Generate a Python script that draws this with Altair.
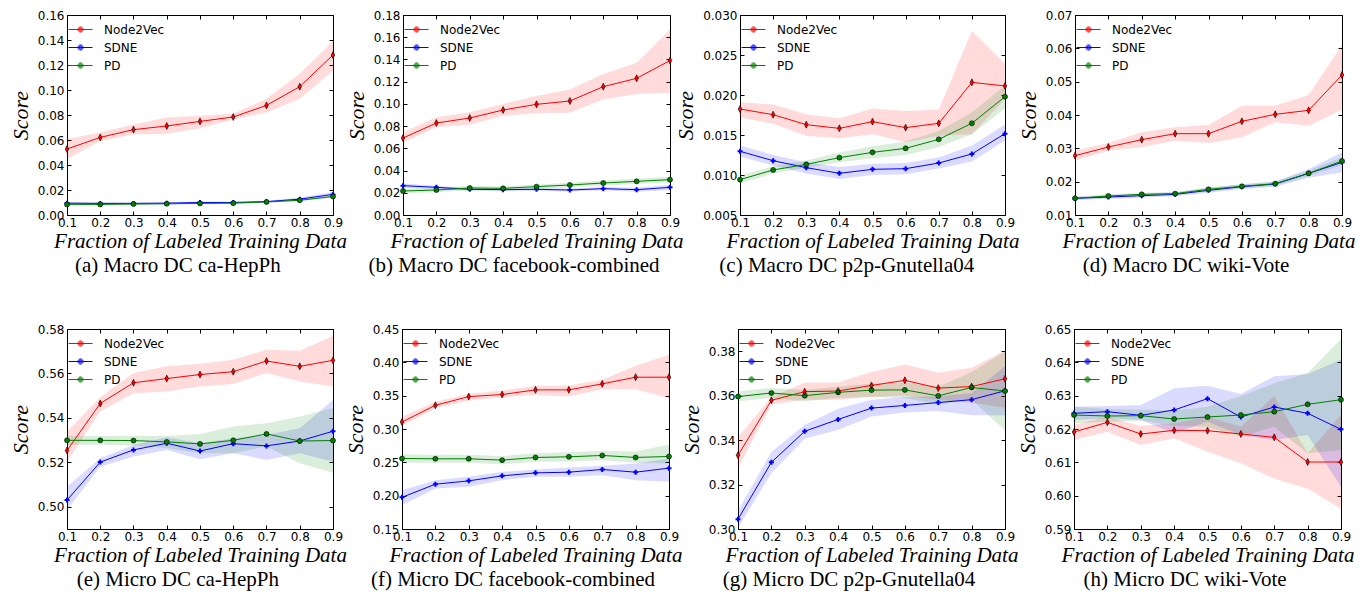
import altair as alt
import pandas as pd

X_VALUES = [0.1, 0.2, 0.3, 0.4, 0.5, 0.6, 0.7, 0.8, 0.9]
SERIES = ["Node2Vec", "SDNE", "PD"]
COLORS = ["#ff0000", "#0000ff", "#008000"]
MARKERS = ["M0,-1.4L0.7,0L0,1.4L-0.7,0Z", "cross", "circle"]
LEGEND_SYMBOL = ("M-1.5,0H1.5"
                 "M0.32,0A0.32,0.32 0 1,1 -0.32,0A0.32,0.32 0 1,1 0.32,0"
                 "M0.2,0A0.2,0.2 0 1,1 -0.2,0A0.2,0.2 0 1,1 0.2,0"
                 "M0.08,0A0.08,0.08 0 1,1 -0.08,0A0.08,0.08 0 1,1 0.08,0")

# ---------- (a) Macro DC ca-HepPh ----------
A_N2V = [0.0528, 0.0621, 0.0683, 0.0712, 0.0749, 0.0784, 0.0877, 0.1027, 0.1280]
A_N2V_LO = [0.0448, 0.0590, 0.0645, 0.0650, 0.0695, 0.0765, 0.0820, 0.0930, 0.1155]
A_N2V_HI = [0.0608, 0.0660, 0.0725, 0.0780, 0.0795, 0.0810, 0.0930, 0.1130, 0.1390]
A_SDNE = [0.0095, 0.0093, 0.0093, 0.0095, 0.0100, 0.0100, 0.0107, 0.0127, 0.0165]
A_SDNE_LO = [0.0085, 0.0085, 0.0085, 0.0087, 0.0091, 0.0092, 0.0099, 0.0115, 0.0148]
A_SDNE_HI = [0.0105, 0.0101, 0.0101, 0.0103, 0.0109, 0.0108, 0.0115, 0.0140, 0.0185]
A_PD = [0.0085, 0.0085, 0.0088, 0.0090, 0.0093, 0.0095, 0.0105, 0.0118, 0.0148]
A_PD_LO = [0.0078, 0.0079, 0.0082, 0.0084, 0.0087, 0.0089, 0.0099, 0.0110, 0.0138]
A_PD_HI = [0.0092, 0.0091, 0.0094, 0.0096, 0.0099, 0.0101, 0.0111, 0.0126, 0.0158]

# ---------- (b) Macro DC facebook-combined ----------
B_N2V = [0.0693, 0.0828, 0.0873, 0.0945, 0.0996, 0.1026, 0.1155, 0.1230, 0.1390]
B_N2V_LO = [0.0650, 0.0790, 0.0813, 0.0894, 0.0915, 0.0920, 0.1040, 0.1090, 0.1100]
B_N2V_HI = [0.0744, 0.0880, 0.0924, 0.1000, 0.1070, 0.1130, 0.1270, 0.1370, 0.1670]
B_SDNE = [0.0264, 0.0249, 0.0231, 0.0228, 0.0231, 0.0225, 0.0237, 0.0228, 0.0249]
B_SDNE_LO = [0.0245, 0.0235, 0.0218, 0.0215, 0.0218, 0.0212, 0.0222, 0.0210, 0.0225]
B_SDNE_HI = [0.0283, 0.0263, 0.0244, 0.0241, 0.0244, 0.0238, 0.0252, 0.0246, 0.0273]
B_PD = [0.0216, 0.0225, 0.0243, 0.0240, 0.0255, 0.0270, 0.0288, 0.0303, 0.0318]
B_PD_LO = [0.0196, 0.0205, 0.0225, 0.0222, 0.0235, 0.0250, 0.0266, 0.0280, 0.0292]
B_PD_HI = [0.0236, 0.0245, 0.0261, 0.0258, 0.0275, 0.0290, 0.0310, 0.0326, 0.0344]

# ---------- (c) Macro DC p2p-Gnutella04 ----------
C_N2V = [0.01825, 0.01754, 0.01629, 0.01583, 0.01667, 0.01592, 0.01646, 0.02158, 0.02113]
C_N2V_LO = [0.0172, 0.0164, 0.0149, 0.0146, 0.0151, 0.0141, 0.0149, 0.0151, 0.0195]
C_N2V_HI = [0.0191, 0.0188, 0.0176, 0.0171, 0.0183, 0.0180, 0.0182, 0.0280, 0.0239]
C_SDNE = [0.01296, 0.01179, 0.01092, 0.01021, 0.01071, 0.01079, 0.01150, 0.01263, 0.01517]
C_SDNE_LO = [0.0123, 0.0112, 0.0102, 0.0095, 0.0100, 0.0101, 0.0108, 0.0117, 0.0143]
C_SDNE_HI = [0.0137, 0.0125, 0.0116, 0.0110, 0.0114, 0.0115, 0.0122, 0.0137, 0.0163]
C_PD = [0.00942, 0.01063, 0.01133, 0.01217, 0.01283, 0.01333, 0.01446, 0.01646, 0.01979]
C_PD_LO = [0.0089, 0.0102, 0.0109, 0.0116, 0.0121, 0.0125, 0.0135, 0.0151, 0.0183]
C_PD_HI = [0.0099, 0.0111, 0.0118, 0.0128, 0.0136, 0.0142, 0.0155, 0.0178, 0.0212]

# ---------- (d) Macro DC wiki-Vote ----------
D_N2V = [0.0278, 0.0304, 0.0326, 0.0344, 0.0344, 0.0381, 0.0402, 0.0414, 0.0520]
D_N2V_LO = [0.0263, 0.0293, 0.0303, 0.0323, 0.0316, 0.0333, 0.0378, 0.0368, 0.0416]
D_N2V_HI = [0.0293, 0.0316, 0.0348, 0.0363, 0.0370, 0.0428, 0.0428, 0.0460, 0.0610]
D_SDNE = [0.0150, 0.0154, 0.0158, 0.0162, 0.0174, 0.0185, 0.0193, 0.0225, 0.0258]
D_SDNE_LO = [0.0145, 0.0149, 0.0152, 0.0156, 0.0167, 0.0178, 0.0185, 0.0212, 0.0228]
D_SDNE_HI = [0.0155, 0.0159, 0.0164, 0.0168, 0.0181, 0.0192, 0.0201, 0.0238, 0.0288]
D_PD = [0.0150, 0.0157, 0.0162, 0.0164, 0.0177, 0.0186, 0.0194, 0.0225, 0.0262]
D_PD_LO = [0.0146, 0.0152, 0.0157, 0.0159, 0.0171, 0.0180, 0.0188, 0.0217, 0.0250]
D_PD_HI = [0.0154, 0.0162, 0.0167, 0.0169, 0.0183, 0.0192, 0.0200, 0.0233, 0.0274]

# ---------- (e) Micro DC ca-HepPh ----------
E_N2V = [0.5253, 0.5465, 0.5558, 0.5577, 0.5595, 0.5608, 0.5656, 0.5632, 0.5659]
E_N2V_LO = [0.5203, 0.5429, 0.5511, 0.5519, 0.5541, 0.5553, 0.5602, 0.5564, 0.5541]
E_N2V_HI = [0.5338, 0.5493, 0.5602, 0.5632, 0.5644, 0.5662, 0.5707, 0.5702, 0.5770]
E_SDNE = [0.5030, 0.5201, 0.5256, 0.5286, 0.5251, 0.5284, 0.5274, 0.5296, 0.5340]
E_SDNE_LO = [0.4985, 0.5180, 0.5226, 0.5256, 0.5214, 0.5241, 0.5211, 0.5241, 0.5203]
E_SDNE_HI = [0.5090, 0.5218, 0.5278, 0.5313, 0.5286, 0.5308, 0.5323, 0.5353, 0.5481]
E_PD = [0.5299, 0.5299, 0.5298, 0.5292, 0.5283, 0.5299, 0.5328, 0.5296, 0.5298]
E_PD_LO = [0.5278, 0.5280, 0.5275, 0.5265, 0.5241, 0.5241, 0.5271, 0.5196, 0.5153]
E_PD_HI = [0.5319, 0.5318, 0.5320, 0.5318, 0.5328, 0.5361, 0.5376, 0.5406, 0.5444]

# ---------- (f) Micro DC facebook-combined ----------
F_N2V = [0.3105, 0.3356, 0.3486, 0.3517, 0.3587, 0.3587, 0.3677, 0.3777, 0.3777]
F_N2V_LO = [0.3050, 0.3310, 0.3426, 0.3471, 0.3512, 0.3486, 0.3597, 0.3597, 0.3461]
F_N2V_HI = [0.3185, 0.3410, 0.3527, 0.3577, 0.3647, 0.3652, 0.3737, 0.3948, 0.4114]
F_SDNE = [0.1976, 0.2172, 0.2222, 0.2297, 0.2342, 0.2352, 0.2393, 0.2352, 0.2413]
F_SDNE_LO = [0.1856, 0.2107, 0.2132, 0.2232, 0.2282, 0.2282, 0.2307, 0.2232, 0.2207]
F_SDNE_HI = [0.2082, 0.2232, 0.2282, 0.2357, 0.2393, 0.2423, 0.2448, 0.2483, 0.2558]
F_PD = [0.2558, 0.2553, 0.2553, 0.2533, 0.2573, 0.2583, 0.2603, 0.2573, 0.2588]
F_PD_LO = [0.2498, 0.2493, 0.2493, 0.2473, 0.2508, 0.2513, 0.2533, 0.2493, 0.2483]
F_PD_HI = [0.2618, 0.2613, 0.2613, 0.2593, 0.2638, 0.2653, 0.2673, 0.2663, 0.2769]

# ---------- (g) Micro DC p2p-Gnutella04 ----------
G_N2V = [0.3332, 0.3579, 0.3618, 0.3621, 0.3646, 0.3669, 0.3634, 0.3641, 0.3676]
G_N2V_LO = [0.3274, 0.3560, 0.3582, 0.3582, 0.3594, 0.3600, 0.3582, 0.3568, 0.3546]
G_N2V_HI = [0.3413, 0.3594, 0.3659, 0.3659, 0.3707, 0.3740, 0.3703, 0.3726, 0.3803]
G_SDNE = [0.3044, 0.3300, 0.3440, 0.3493, 0.3544, 0.3556, 0.3569, 0.3582, 0.3622]
G_SDNE_LO = [0.3006, 0.3251, 0.3406, 0.3447, 0.3506, 0.3524, 0.3531, 0.3512, 0.3512]
G_SDNE_HI = [0.3082, 0.3347, 0.3469, 0.3541, 0.3582, 0.3594, 0.3597, 0.3612, 0.3732]
G_PD = [0.3596, 0.3612, 0.3600, 0.3615, 0.3625, 0.3626, 0.3599, 0.3637, 0.3621]
G_PD_LO = [0.3575, 0.3590, 0.3575, 0.3590, 0.3595, 0.3590, 0.3560, 0.3582, 0.3443]
G_PD_HI = [0.3620, 0.3635, 0.3625, 0.3640, 0.3655, 0.3660, 0.3640, 0.3707, 0.3799]

# ---------- (h) Micro DC wiki-Vote ----------
H_N2V = [0.6191, 0.6220, 0.6185, 0.6196, 0.6195, 0.6185, 0.6175, 0.6101, 0.6101]
H_N2V_LO = [0.6167, 0.6192, 0.6152, 0.6172, 0.6132, 0.6097, 0.6051, 0.6021, 0.5961]
H_N2V_HI = [0.6212, 0.6237, 0.6209, 0.6217, 0.6237, 0.6207, 0.6299, 0.6127, 0.6242]
H_SDNE = [0.6247, 0.6252, 0.6241, 0.6257, 0.6291, 0.6236, 0.6266, 0.6247, 0.6199]
H_SDNE_LO = [0.6227, 0.6232, 0.6227, 0.6187, 0.6222, 0.6182, 0.6167, 0.6182, 0.6026]
H_SDNE_HI = [0.6267, 0.6269, 0.6272, 0.6322, 0.6330, 0.6305, 0.6358, 0.6365, 0.6408]
H_PD = [0.6242, 0.6239, 0.6240, 0.6230, 0.6236, 0.6242, 0.6252, 0.6274, 0.6288]
H_PD_LO = [0.6217, 0.6222, 0.6225, 0.6210, 0.6207, 0.6177, 0.6207, 0.6127, 0.6137]
H_PD_HI = [0.6267, 0.6260, 0.6258, 0.6255, 0.6267, 0.6299, 0.6337, 0.6368, 0.6470]

CAPTIONS = [
    "(a) Macro DC ca-HepPh", "(b) Macro DC facebook-combined",
    "(c) Macro DC p2p-Gnutella04", "(d) Macro DC wiki-Vote",
    "(e) Micro DC ca-HepPh", "(f) Micro DC facebook-combined",
    "(g) Micro DC p2p-Gnutella04", "(h) Micro DC wiki-Vote",
]
Y_DOMAINS = [[0.0, 0.16], [0.0, 0.18], [0.005, 0.030], [0.01, 0.07],
             [0.49, 0.58], [0.15, 0.45], [0.30, 0.39], [0.59, 0.65]]
Y_TICKS = [
    [0.0, 0.02, 0.04, 0.06, 0.08, 0.10, 0.12, 0.14, 0.16],
    [0.0, 0.02, 0.04, 0.06, 0.08, 0.10, 0.12, 0.14, 0.16, 0.18],
    [0.005, 0.010, 0.015, 0.020, 0.025, 0.030],
    [0.01, 0.02, 0.03, 0.04, 0.05, 0.06, 0.07],
    [0.50, 0.52, 0.54, 0.56, 0.58],
    [0.15, 0.20, 0.25, 0.30, 0.35, 0.40, 0.45],
    [0.30, 0.32, 0.34, 0.36, 0.38],
    [0.59, 0.60, 0.61, 0.62, 0.63, 0.64, 0.65],
]
Y_FORMATS = [".2f", ".2f", ".3f", ".2f", ".2f", ".2f", ".2f", ".2f"]
PANEL_WIDTHS = [266, 267, 265, 267, 266, 267, 267, 267]

PANEL_DATA = [
    (A_N2V, A_N2V_LO, A_N2V_HI, A_SDNE, A_SDNE_LO, A_SDNE_HI, A_PD, A_PD_LO, A_PD_HI),
    (B_N2V, B_N2V_LO, B_N2V_HI, B_SDNE, B_SDNE_LO, B_SDNE_HI, B_PD, B_PD_LO, B_PD_HI),
    (C_N2V, C_N2V_LO, C_N2V_HI, C_SDNE, C_SDNE_LO, C_SDNE_HI, C_PD, C_PD_LO, C_PD_HI),
    (D_N2V, D_N2V_LO, D_N2V_HI, D_SDNE, D_SDNE_LO, D_SDNE_HI, D_PD, D_PD_LO, D_PD_HI),
    (E_N2V, E_N2V_LO, E_N2V_HI, E_SDNE, E_SDNE_LO, E_SDNE_HI, E_PD, E_PD_LO, E_PD_HI),
    (F_N2V, F_N2V_LO, F_N2V_HI, F_SDNE, F_SDNE_LO, F_SDNE_HI, F_PD, F_PD_LO, F_PD_HI),
    (G_N2V, G_N2V_LO, G_N2V_HI, G_SDNE, G_SDNE_LO, G_SDNE_HI, G_PD, G_PD_LO, G_PD_HI),
    (H_N2V, H_N2V_LO, H_N2V_HI, H_SDNE, H_SDNE_LO, H_SDNE_HI, H_PD, H_PD_LO, H_PD_HI),
]


def make_df(arrs):
    rows = []
    for k, name in enumerate(SERIES):
        mean, lo, hi = arrs[3 * k], arrs[3 * k + 1], arrs[3 * k + 2]
        for x, m, l, h in zip(X_VALUES, mean, lo, hi):
            rows.append({"x": x, "series": name, "mean": m, "lo": l, "hi": h})
    return pd.DataFrame(rows)


def tick_axis(orient, values):
    return alt.Axis(orient=orient, offset=-4, values=values, labels=False, title=None,
                    grid=False, domain=False, ticks=True, tickSize=4,
                    tickColor="black", tickWidth=1)


def panel(i):
    df = make_df(PANEL_DATA[i])
    xs = alt.Scale(domain=[0.1, 0.9], nice=False, zero=False)
    ys = alt.Scale(domain=Y_DOMAINS[i], nice=False, zero=False)
    # color scale drives the (only) legend; fill/shape scales list the same series in
    # reverse order so that Vega-Lite does not merge their disabled legends into it
    cscale = alt.Scale(domain=SERIES, range=COLORS)
    fscale = alt.Scale(domain=SERIES[::-1], range=COLORS[::-1])
    sscale = alt.Scale(domain=SERIES[::-1], range=MARKERS[::-1])

    main_x = alt.Axis(values=X_VALUES, format=".1f", grid=False, ticks=False, domain=False,
                      labelFlush=False, labelOverlap=False, labelPadding=2,
                      labelFont="DejaVu Sans", labelFontSize=12, labelColor="black",
                      title="Fraction of Labeled Training Data",
                      titleFont="Liberation Serif", titleFontStyle="italic",
                      titleFontWeight="normal", titleFontSize=21, titlePadding=2,
                      titleColor="black")
    main_y = alt.Axis(values=Y_TICKS[i], format=Y_FORMATS[i], grid=False, ticks=False,
                      domain=False, labelFlush=False, labelOverlap=False, labelPadding=3,
                      labelFont="DejaVu Sans", labelFontSize=12, labelColor="black",
                      title="Score", titleFont="Liberation Serif", titleFontStyle="italic",
                      titleFontWeight="normal", titleFontSize=22, titlePadding=5,
                      titleColor="black")
    legend = alt.Legend(title=None, orient="none", legendX=5, legendY=6,
                        symbolType=LEGEND_SYMBOL, symbolSize=256, symbolStrokeWidth=1,
                        labelFont="DejaVu Sans", labelFontSize=12, labelColor="black",
                        labelOffset=15, rowPadding=3)

    base = alt.Chart(df)
    band = base.mark_area(opacity=0.14).encode(
        x=alt.X("x:Q", scale=xs, axis=main_x),
        y=alt.Y("lo:Q", scale=ys, axis=main_y),
        y2="hi:Q",
        fill=alt.Fill("series:N", scale=fscale, legend=None),
    )
    line = base.mark_line(strokeWidth=1).encode(
        x=alt.X("x:Q", scale=xs, axis=tick_axis("bottom", X_VALUES)),
        y=alt.Y("mean:Q", scale=ys, axis=tick_axis("left", Y_TICKS[i])),
        color=alt.Color("series:N", scale=cscale, legend=legend),
    )
    pts = base.mark_point(filled=True, size=25, opacity=1, strokeWidth=0).encode(
        x=alt.X("x:Q", scale=xs, axis=tick_axis("top", X_VALUES)),
        y=alt.Y("mean:Q", scale=ys, axis=tick_axis("right", Y_TICKS[i])),
        fill=alt.Fill("series:N", scale=fscale, legend=None),
        shape=alt.Shape("series:N", scale=sscale, legend=None),
    )
    edges = base.transform_filter(alt.datum.series != "SDNE").mark_point(
        filled=False, color="black", strokeWidth=0.6, size=25, opacity=1
    ).encode(
        x=alt.X("x:Q", scale=xs, axis=None),
        y=alt.Y("mean:Q", scale=ys, axis=None),
        shape=alt.Shape("series:N", scale=sscale, legend=None),
    )
    return alt.layer(band, line, pts, edges).resolve_axis(
        x="independent", y="independent"
    ).properties(
        width=PANEL_WIDTHS[i], height=200,
        title=alt.TitleParams(CAPTIONS[i], orient="bottom", anchor="middle", frame="bounds",
                              font="Liberation Serif", fontSize=21, fontWeight="normal",
                              color="black", offset=4),
    )


def resolved(c):
    return c.resolve_scale(
        color="independent", fill="independent", shape="independent",
        x="independent", y="independent"
    ).resolve_legend(color="independent", fill="independent", shape="independent")


def row(indices, spacing):
    return resolved(alt.hconcat(*[panel(i) for i in indices], spacing=spacing, bounds="flush"))


chart = resolved(alt.vconcat(row([0, 1, 2, 3], 70), row([4, 5, 6, 7], 69), spacing=314, bounds="flush")).properties(
    padding={"left": 0, "top": 0, "right": 0, "bottom": 0}, background="white"
).configure_view(stroke="black", strokeWidth=1)

chart.save("out.html", embed_options={"renderer": "svg", "actions": False})
